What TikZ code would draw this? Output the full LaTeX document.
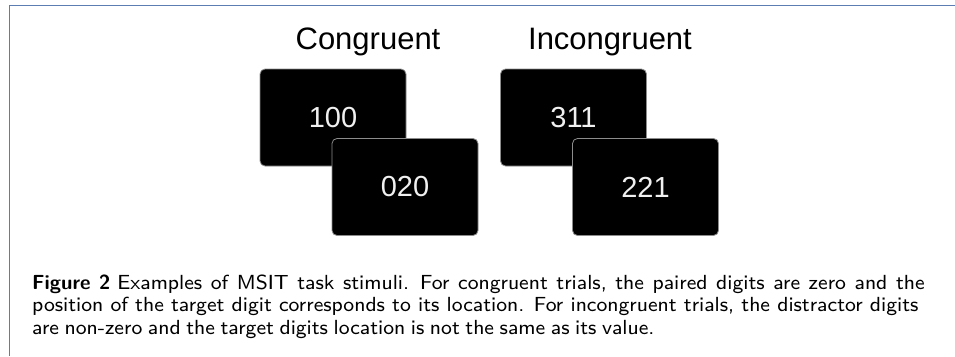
\documentclass[tikz,border=0pt]{standalone}
\usepackage{fontspec}
\newfontfamily\arialfont{Liberation Sans}
\newfontfamily\capfont{lmsans8-regular}[Extension=.otf, BoldFont=lmsans10-bold]
\definecolor{framecol}{HTML}{5B7DB1}
\definecolor{digitcol}{HTML}{F0F0F0}
\begin{document}
\begin{tikzpicture}[x=1pt,y=-1pt,
  card/.style={fill=black, draw=black!45, line width=0.8pt, rounded corners=5pt,
    minimum width=146pt, minimum height=97pt, inner sep=0pt,
    text=digitcol, font=\arialfont\fontsize{29}{29}\selectfont},
  heading/.style={anchor=base, inner sep=0pt, font=\arialfont\fontsize{31}{31}\selectfont},
  captionline/.style={anchor=base west, inner sep=0pt, font=\capfont\fontsize{20.4}{22.3}\selectfont}]
\useasboundingbox (0,0) rectangle (955,356);

% frame of the figure panel
\coordinate (fTR) at (955,5.3);
\coordinate (fTL) at (9.3,5.3);
\coordinate (fBL) at (9.3,356);
\draw[framecol, line width=1.5pt] (fTR) -- (fTL) -- (fBL);

% headings
\node[heading] (hcon) at (368,49) {Congruent};
\node[heading] (hinc) at (610,49) {Incongruent};

% congruent stimuli
\node[card] (c1) at (333,117.5) {100};
\node[card] (c2) at (405,187) {020};

% incongruent stimuli
\node[card] (i1) at (573.5,117.5) {311};
\node[card] (i2) at (645.5,187) {221};

% caption, one node per printed line
\node[captionline] (cap1) at (32,289.5) {\spaceskip=8.6pt\textbf{Figure 2}\hspace{7pt}Examples of MSIT task stimuli. For congruent trials, the paired digits are zero and the};
\node[captionline] (cap2) at (32,311.8) {position of the target digit corresponds to its location. For incongruent trials, the distractor digits};
\node[captionline] (cap3) at (32,334) {\spaceskip=5.6pt are non-zero and the target digits location is not the same as its value.};
\end{tikzpicture}
\end{document}
